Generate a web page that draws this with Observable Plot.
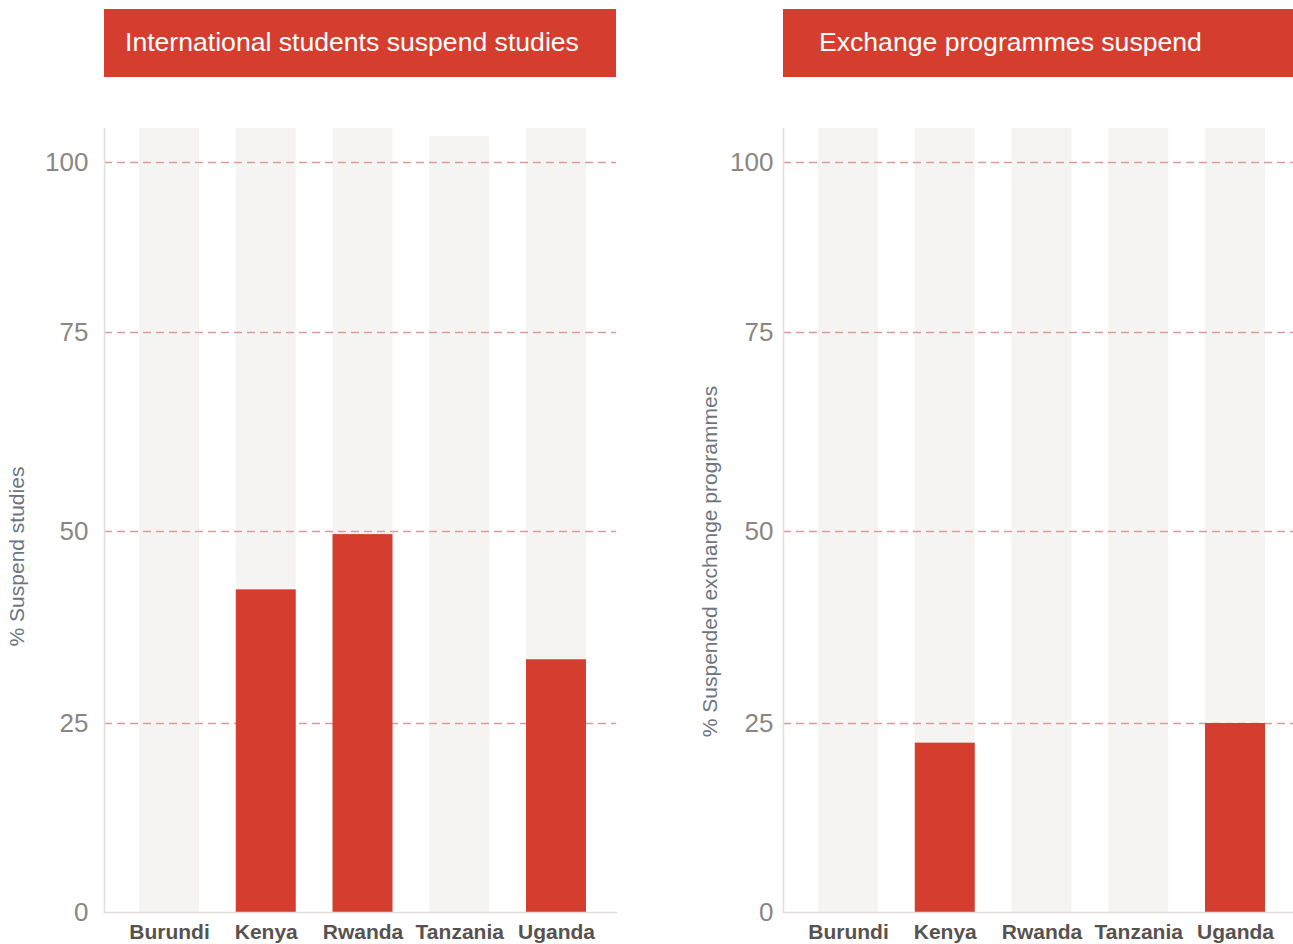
<!DOCTYPE html>
<html><head><meta charset="utf-8">
<script src="https://cdn.jsdelivr.net/npm/d3@7"></script>
<script src="https://cdn.jsdelivr.net/npm/@observablehq/plot@0.6"></script>
<style>
body{margin:0;background:#fff;font-family:"Liberation Sans",Arial,sans-serif;}
#root{position:relative;width:1293px;height:944px;overflow:hidden;}
.title{position:absolute;top:9px;height:68px;background:#d53e2f;color:#fff;font-size:26.6px;line-height:66px;box-sizing:border-box;white-space:nowrap;}
.panel{position:absolute;top:100px;}
</style></head><body>
<div id="root">
 <div class="title" style="left:104px;width:512px;padding-left:21px">International students suspend studies</div>
 <div class="title" style="left:783px;width:510px;padding-left:36px">Exchange programmes suspend</div>
 <div class="panel" id="p1" style="left:0"></div>
 <div class="panel" id="p2" style="left:679px"></div>
</div>
<script>
const countries = ["Burundi", "Kenya", "Rwanda", "Tanzania", "Uganda"];
const suspendStudies = [0, 42.4, 49.6, 0, 33.3];
const suspendExchange = [0, 22.4, 0, 0, 25];
const backdropStudies = [105, 105, 105, 103.8, 105];
const backdropExchange = [105, 105, 105, 105, 105];
const yTicks = [0, 25, 50, 75, 100];

function panel(values, backdrop, label, tickPad, labelDx, labelDy, width, marginRight) {
  const rows = countries.map((c, i) => ({country: c, value: values[i], backdrop: backdrop[i]}));
  return Plot.plot({
    width, height: 844, marginLeft: 104, marginRight, marginTop: 28, marginBottom: 32,
    style: {fontFamily: '"Liberation Sans", Arial, sans-serif', background: "transparent"},
    x: {type: "band", domain: countries, range: [110, 615], paddingInner: 0.38, paddingOuter: 0.3, round: false, label: null},
    y: {type: "linear", domain: [0, 25, 50, 75, 100], range: [812, 623, 431, 232, 62], label: null},
    marks: [
      Plot.barY(rows, {x: "country", y: "backdrop", fill: "#f5f4f2"}),
      Plot.ruleY(yTicks.slice(1), {stroke: "#dc9a9a", strokeWidth: 1.5, strokeDasharray: "8,5"}),
      Plot.barY(rows, {x: "country", y: "value", fill: "#d53e2f"}),
      Plot.frame({anchor: "left", stroke: "#e3dedb", strokeWidth: 1.5}),
      Plot.frame({anchor: "bottom", stroke: "#e3dedb", strokeWidth: 1.5}),
      Plot.axisY(yTicks, {tickSize: 0, tickPadding: tickPad, fontSize: 26, color: "#8b8682", label: null}),
      Plot.axisX({tickSize: 0, tickPadding: 12, fontSize: 21, fontWeight: "bold", color: "#57524f", label: null}),
      Plot.text([label], {frameAnchor: "left", textAnchor: "middle", rotate: -90, dx: labelDx, dy: labelDy, fontSize: 21, fill: "#6d7480"})
    ]
  });
}

document.getElementById("p1").append(panel(suspendStudies, backdropStudies, "% Suspend studies", 16, -87, 36, 640, 24));
document.getElementById("p2").append(panel(suspendExchange, backdropExchange, "% Suspended exchange programmes", 10, -73, 41, 614, 0));
</script>
</body></html>
